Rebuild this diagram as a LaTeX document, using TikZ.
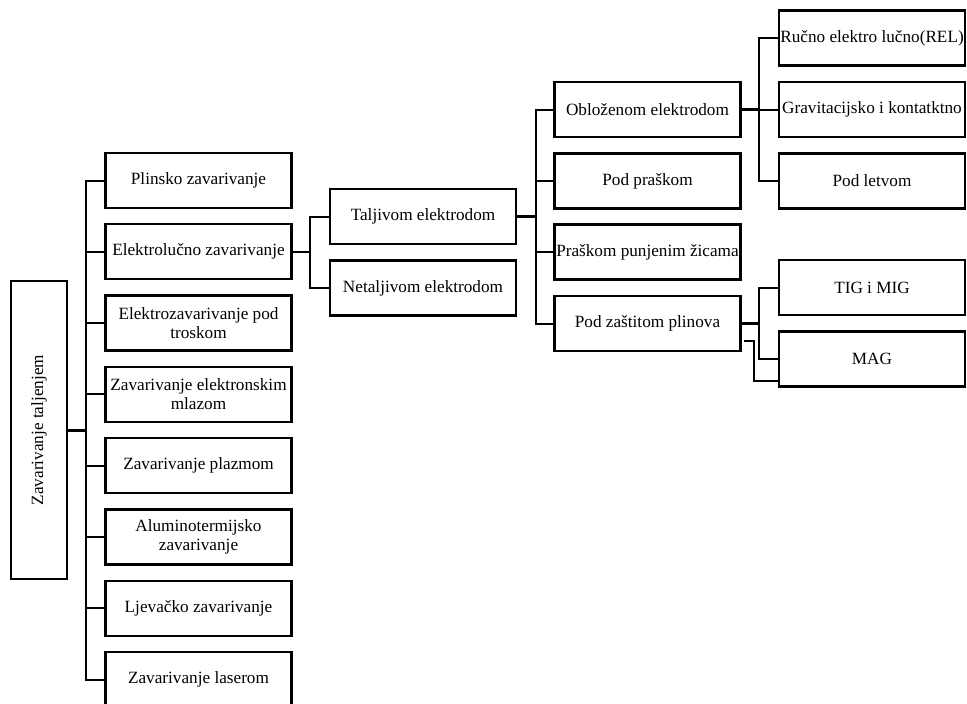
\documentclass[tikz,border=0pt]{standalone}
\usepackage{fontspec}
\setmainfont{Liberation Serif}
\usepackage{graphicx}
\usepackage{tikz}
\usetikzlibrary{calc}

\begin{document}
\begin{tikzpicture}[x=1pt, y=-1pt,
            every node/.style={font=\fontsize{17.2}{19}\selectfont},
            box/.style={draw, line width=2.3pt, minimum width=186, minimum height=55, inner sep=0pt, align=center},
            branch/.style={line width=2pt},
            stub/.style={line width=3pt}]
            \useasboundingbox (0,0) rectangle (967,704);

            \node[box, minimum width=56, minimum height=298] (root) at (39,430) {\rotatebox{90}{Zavarivanje taljenjem}};

            \node[box] (plinsko) at (198.5,180.5) {Plinsko zavarivanje};
            \node[box] (luk) at (198.5,251.8) {Elektrolučno zavarivanje};
            \node[box] (trosak) at (198.5,323.1) {Elektrozavarivanje pod\\troskom};
            \node[box] (mlaz) at (198.5,394.4) {Zavarivanje elektronskim\\mlazom};
            \node[box] (plazma) at (198.5,465.7) {Zavarivanje plazmom};
            \node[box] (alumino) at (198.5,537) {Aluminotermijsko\\zavarivanje};
            \node[box] (ljev) at (198.5,608.3) {Ljevačko zavarivanje};
            \node[box] (laser) at (198.5,679.6) {Zavarivanje laserom};

            \node[box] (taljivom) at (423,216.5) {Taljivom elektrodom};
            \node[box] (netaljivom) at (423,288) {Netaljivom elektrodom};

            \node[box] (oblozenom) at (647.5,109.5) {Obloženom elektrodom};
            \node[box] (prasak) at (647.5,181) {Pod praškom};
            \node[box] (zica) at (647.5,252) {Praškom punjenim žicama};
            \node[box] (zastita) at (647.5,323.5) {Pod zaštitom plinova};

            \node[box] (rel) at (872,38) {Ručno elektro lučno(REL)};
            \node[box] (grav) at (872,109.5) {Gravitacijsko i kontatktno};
            \node[box] (letva) at (872,181) {Pod letvom};
            \node[box] (tig) at (872,287.5) {TIG i MIG};
            \node[box] (mag) at (872,359) {MAG};

            \foreach \c in {plinsko,luk,trosak,mlaz,plazma,alumino,ljev,laser}
                \draw[branch] (root.east) -- ++(18,0) |- (\c.west);
            \draw[stub] (root.east) -- ++(18,0);

            \foreach \c in {taljivom,netaljivom}
                \draw[branch] (luk.east) -- ++(17.5,0) |- (\c.west);

            \foreach \c in {oblozenom,prasak,zica,zastita}
                \draw[branch] (taljivom.east) -- ++(19,0) |- (\c.west);
            \draw[stub] (taljivom.east) -- ++(19,0);

            \foreach \c in {rel,grav,letva}
                \draw[branch] (oblozenom.east) -- ++(17.5,0) |- (\c.west);
            \draw[stub] (oblozenom.east) -- ++(17.5,0);

            \foreach \c in {tig,mag}
                \draw[branch] (zastita.east) -- ++(17.5,0) |- (\c.west);
            \draw[stub] (zastita.east) -- ++(17.5,0);

            \coordinate (zx) at ($(zastita.south east)+(2,-11)$);
            \draw[branch] (zx) -- ++(10,0) |- ($(mag.south west)+(0,-7)$);
\end{tikzpicture}
\end{document}
